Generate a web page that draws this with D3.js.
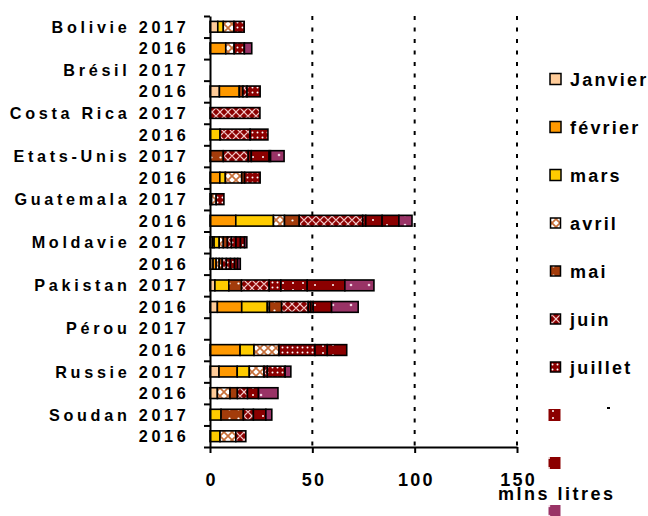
<!DOCTYPE html>
<html><head><meta charset="utf-8">
<script src="https://cdn.jsdelivr.net/npm/d3@7"></script>
<style>
body{margin:0;background:#fff}
svg{display:block}
text{font-family:'Liberation Sans',Arial,sans-serif;font-weight:bold;fill:#000}
</style>
</head><body>
<svg id="c" width="648" height="516"></svg>
<script>
const categories = ["Bolivie 2017","2016","Brésil 2017","2016","Costa Rica 2017","2016","Etats-Unis 2017","2016","Guatemala 2017","2016","Moldavie 2017","2016","Pakistan 2017","2016","Pérou 2017","2016","Russie 2017","2016","Soudan 2017","2016"];
const months = ["Janvier","février","mars","avril","mai","juin","juillet","août","septembre","octobre"];
const legendShown = ["Janvier","février","mars","avril","mai","juin","juillet"];
const janvier   = [3.8,0,0,4.6,0,0,0,0,0.8,0,1.2,1.5,2.4,3.6,0,0,4.4,3.6,0,0];
const fevrier   = [0,7.7,0,9.7,0,0,0,4.8,0,12.6,0.8,1.5,0,11.9,0,14.7,8.9,0,0,0];
const mars      = [2.7,0,0,0,0,4.9,0,2.7,0,18.4,2.5,0,6.8,12.5,0,6.8,5.9,0,5.4,4.9];
const avril     = [5.2,4.1,0,0,0,0,0,8,2.2,5.4,2,1.5,0,1,0,12.2,7.2,6.2,0,7.7];
const mai       = [0,0,0,1.8,0,0,6.5,1.4,0,7.2,2,1.5,6.2,6,0,0,0,3.6,10.9,0];
const juin      = [0,0,0,2,24.4,14.7,12.2,0,0,31,2,2,13.5,13,0,0,1.6,4.9,4.9,4.9];
const juillet   = [5,5,0,6.4,0,8.7,1.5,7.6,3.8,1.5,2.2,2,5.7,1.2,0,17.6,8.7,0,0,0];
const aout      = [0,0,0,0,0,0,8.7,0,0,8,2.2,2,12.9,1.2,0,6,0,5.4,6.1,0];
const septembre = [0,0,0,0,0,0,0.7,0,0,8.2,2,1.5,18.4,9,0,9.5,0,0,0,0];
const octobre   = [0,3.6,0,0,0,0,6.6,0,0,6.4,1.1,1.3,14.2,13,0,0,2.8,9.5,2.9,0];
const xTicks = [0,50,100,150];
const xTitle = "mlns litres";

const series = [janvier,fevrier,mars,avril,mai,juin,juillet,aout,septembre,octobre];
const table = categories.map((c,i)=>{const o={idx:i}; months.forEach((m,j)=>o[m]=series[j][i]); return o;});

const svg = d3.select("#c");
const defs = svg.append("defs");

function pat(id,w,h,bg,draw){
  const p = defs.append("pattern").attr("id",id).attr("patternUnits","userSpaceOnUse").attr("width",w).attr("height",h);
  p.append("rect").attr("width",w).attr("height",h).attr("fill",bg);
  draw(p);
}
pat("p-avril",8,8,"#fff",p=>p.append("path").attr("d","M0,0L8,8M8,0L0,8").attr("stroke","#C8703A").attr("stroke-width",1.7));
pat("p-mai",9,9,"#A33C0B",p=>p.append("circle").attr("cx",4.5).attr("cy",4.5).attr("r",1.1).attr("fill","#fff"));
pat("p-juin",8,8,"#8B0000",p=>p.append("path").attr("d","M0,4L4,0L8,4L4,8Z").attr("stroke","#F2C8C8").attr("stroke-width",1.2).attr("fill","none"));
pat("p-juillet",5,5,"#8B0000",p=>p.append("circle").attr("cx",2.5).attr("cy",2.5).attr("r",1).attr("fill","#fff"));
pat("p-aout",10,7,"#8B0000",p=>p.append("circle").attr("cx",3).attr("cy",3).attr("r",1).attr("fill","#fff"));
pat("p-sept",18,10,"#8B0000",p=>p.append("circle").attr("cx",9).attr("cy",5).attr("r",1).attr("fill","#fff"));
pat("p-oct",18,10,"#993366",p=>p.append("circle").attr("cx",9).attr("cy",5).attr("r",1.3).attr("fill","#F4D4E4"));

const fills = ["#FFCC99","#FF9900","#FFCC00","url(#p-avril)","url(#p-mai)","url(#p-juin)","url(#p-juillet)","url(#p-aout)","url(#p-sept)","url(#p-oct)"];
const color = d3.scaleOrdinal().domain(months).range(fills);

const x = d3.scaleLinear().domain([0,150]).range([210,517]);
const y = d3.scaleBand().domain(d3.range(categories.length)).range([16,447]).paddingInner(0.5).paddingOuter(0.25);
const yLin = d3.scaleLinear().domain([0,categories.length]).range([16,447]);

// gridlines
svg.append("g").selectAll("line").data(xTicks.filter(d=>d>0)).join("line")
  .attr("x1",d=>x(d)).attr("x2",d=>x(d)).attr("y1",16).attr("y2",447)
  .attr("stroke","#000").attr("stroke-width",2).attr("stroke-dasharray","4,7.5");

// bars
const stacked = d3.stack().keys(months)(table);
svg.append("g").selectAll("g").data(stacked).join("g")
  .attr("fill",d=>color(d.key))
  .selectAll("rect").data(d=>d.filter(s=>s[1]-s[0]>0)).join("rect")
  .attr("x",d=>x(d[0])).attr("width",d=>x(d[1])-x(d[0]))
  .attr("y",d=>y(d.data.idx)).attr("height",y.bandwidth())
  .attr("stroke","#000").attr("stroke-width",1.6);

// y axis
const yAx = svg.append("g").attr("transform","translate(210,0)")
  .call(d3.axisLeft(yLin).tickValues(d3.range(categories.length+1)).tickSizeInner(6).tickSizeOuter(0).tickFormat(""));
yAx.selectAll("path,line").attr("stroke","#000").attr("stroke-width",2);

svg.append("g").selectAll("text").data(categories).join("text")
  .attr("x",189.5).attr("y",(d,i)=>y(i)+y.bandwidth()/2+6)
  .attr("text-anchor","end").attr("font-size",16.2).attr("letter-spacing",3.7)
  .text(d=>d);

// x axis
const xAx = svg.append("g").attr("transform","translate(0,447)")
  .call(d3.axisBottom(x).tickValues(xTicks).tickSize(6).tickSizeOuter(0));
xAx.selectAll("path,line").attr("stroke","#000").attr("stroke-width",2);
xAx.selectAll("text").attr("y",39).attr("dy",null).attr("dx",1.2)
  .attr("font-size",18).attr("letter-spacing",2.3).attr("fill","#000")
  .style("font-family","'Liberation Sans',Arial,sans-serif").style("font-weight","bold");

// x title
svg.append("text").attr("x",498).attr("y",500).attr("font-size",18).attr("letter-spacing",2.5).text(xTitle);

// legend
const lg = svg.append("g").selectAll("g").data(months).join("g")
  .attr("transform",(d,i)=>`translate(0,${79+48*i})`);
lg.append("rect")
  .attr("x",(d,i)=>i<3?550:(i<7?550.5:548.5)).attr("y",(d,i)=>i<3?-5.5:(i<7?-5:-6))
  .attr("width",(d,i)=>i<3?11:(i<7?10:12)).attr("height",(d,i)=>i<3?11:(i<7?10:12))
  .attr("fill",d=>color(d))
  .attr("stroke",(d,i)=>i<7?"#000":"none").attr("stroke-width",1.5);
lg.filter(d=>legendShown.includes(d)).append("text")
  .attr("x",570).attr("y",7).attr("font-size",18).attr("letter-spacing",2.2).text(d=>d);
// tiny clipped mark next to the 8th legend entry
svg.append("rect").attr("x",607).attr("y",407).attr("width",3).attr("height",2).attr("fill","#000");
</script>
</body></html>
